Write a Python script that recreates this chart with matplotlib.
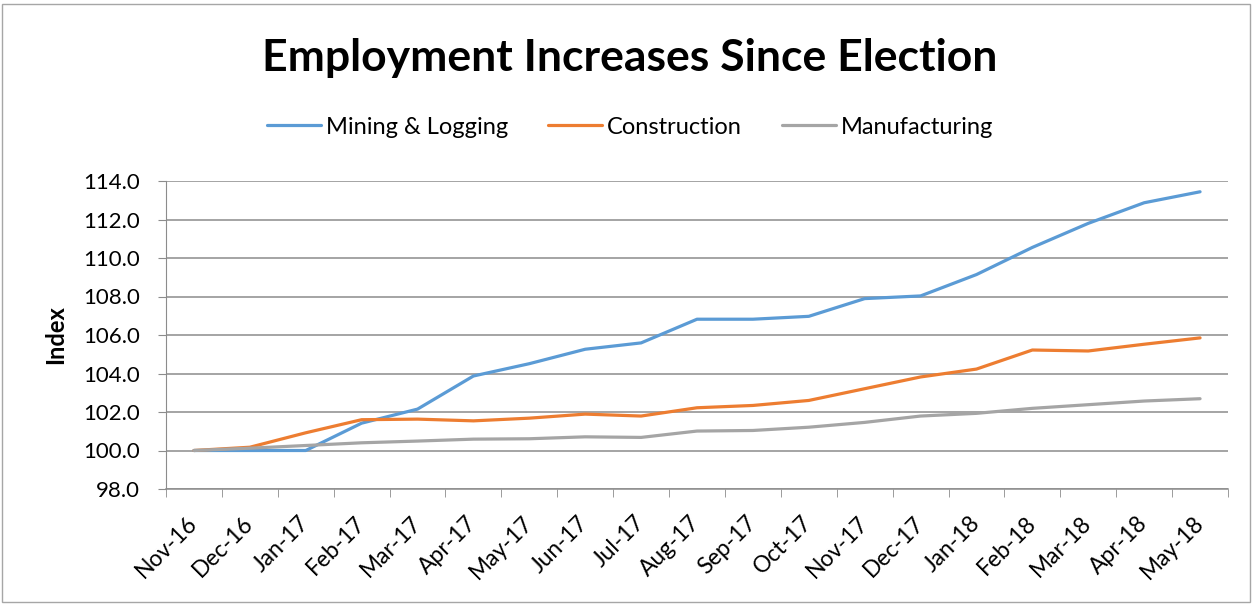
import matplotlib
matplotlib.use("Agg")
import matplotlib.pyplot as plt
from matplotlib.patches import Rectangle
from matplotlib.ticker import FixedLocator

# ==========================================================
# DADOS
# ==========================================================

meses = ["Nov-16", "Dec-16", "Jan-17", "Feb-17", "Mar-17", "Apr-17",
         "May-17", "Jun-17", "Jul-17", "Aug-17", "Sep-17", "Oct-17",
         "Nov-17", "Dec-17", "Jan-18", "Feb-18", "Mar-18", "Apr-18",
         "May-18"]

mining = [100.0, 100.0, 100.0, 101.42, 102.15, 103.87, 104.51, 105.26,
          105.59, 106.82, 106.82, 106.97, 107.89, 108.03, 109.14,
          110.55, 111.80, 112.87, 113.44]

construction = [100.0, 100.17, 100.92, 101.60, 101.63, 101.54, 101.68,
                101.89, 101.79, 102.22, 102.34, 102.60, 103.21, 103.82,
                104.23, 105.22, 105.17, 105.52, 105.85]

manufacturing = [100.0, 100.12, 100.26, 100.40, 100.49, 100.59, 100.61,
                 100.71, 100.68, 101.01, 101.04, 101.21, 101.46, 101.79,
                 101.93, 102.19, 102.38, 102.57, 102.69]

y_ticks = [98, 100, 102, 104, 106, 108, 110, 112, 114]

# ==========================================================
# GRÁFICO
# ==========================================================

plt.rcParams["font.family"] = ["Lato", "DejaVu Sans"]

fig = plt.figure(figsize=(12.53, 6.05), dpi=100)
ax = fig.add_axes([166 / 1253, 1 - 489 / 605, (1228 - 166) / 1253, (489 - 181) / 605])

x = list(range(len(meses)))

ax.plot(x, mining, color="#5B9BD5", lw=2.3, label="Mining & Logging", solid_capstyle="round")
ax.plot(x, construction, color="#ED7D31", lw=2.3, label="Construction", solid_capstyle="round")
ax.plot(x, manufacturing, color="#A5A5A5", lw=2.3, label="Manufacturing", solid_capstyle="round")

ax.set_xlim(-0.5, len(meses) - 0.5)
ax.set_ylim(98, 114)

ax.set_yticks(y_ticks)
ax.set_yticklabels([f"{v:.1f}" for v in y_ticks], fontsize=16)
ax.grid(axis="y", color="#8C8C8C", lw=1.1)
ax.set_axisbelow(True)

ax.set_xticks(x)
ax.set_xticklabels(meses, rotation=45, ha="right", va="center",
                   rotation_mode="anchor", fontsize=16.5)
ax.xaxis.set_minor_locator(FixedLocator([i - 0.5 for i in range(len(meses) + 1)]))
ax.tick_params(axis="x", which="major", length=0, pad=22)
ax.tick_params(axis="x", which="minor", length=6, color="#8C8C8C")
ax.tick_params(axis="y", length=6, color="#8C8C8C", pad=13)

for lado in ["top", "right"]:
    ax.spines[lado].set_visible(False)
ax.spines["left"].set_color("#8C8C8C")
ax.spines["bottom"].set_color("#8C8C8C")
ax.spines["bottom"].set_linewidth(1.1)

ax.set_ylabel("Index", fontsize=17, fontweight="bold")
ax.yaxis.set_label_coords((67 - 166) / 1062, 0.5)

fig.text(630 / 1253, 1 - 58 / 605, "Employment Increases Since Election",
         ha="center", va="center", fontsize=32, fontweight="bold")

fig.legend(loc="center", bbox_to_anchor=(630 / 1253, 1 - 127 / 605), ncol=3,
           frameon=False, fontsize=17, handlelength=2.3, columnspacing=1.7,
           handletextpad=0.2)

fig.patches.append(Rectangle((2 / 1253, 3 / 605), 1248 / 1253, 598 / 605,
                             transform=fig.transFigure, fill=False,
                             edgecolor="#A6A6A6", lw=1))

fig.savefig("out.png", dpi=100)
